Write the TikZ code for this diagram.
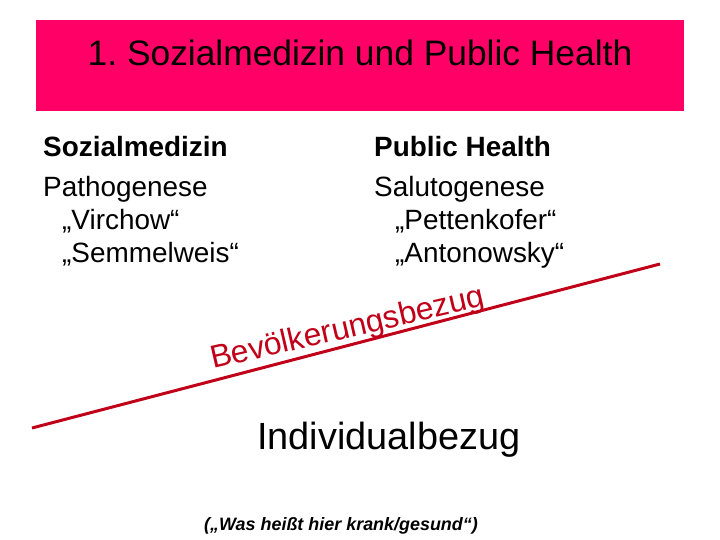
\documentclass[tikz,border=0pt]{standalone}
\usepackage{fontspec}
\setmainfont{Liberation Sans}
\frenchspacing
\definecolor{titlepink}{HTML}{FF0066}
\definecolor{linered}{HTML}{C00018}
\begin{document}
\begin{tikzpicture}[x=1bp,y=-1bp,
  coltext/.style={anchor=base west,inner sep=0pt,font=\fontsize{28}{32}\selectfont},
  colhead/.style={coltext,font=\fontsize{28}{32}\selectfont\bfseries}]
\useasboundingbox (0,0) rectangle (720,540);
\fill[titlepink] (36,20) rectangle (684,111);
\node[anchor=base,inner sep=0pt,font=\fontsize{35.5}{40}\selectfont] (title) at (360,66) {1. Sozialmedizin und Public Health};
% left column
\node[colhead] (lh) at (43,157) {Sozialmedizin};
\node[coltext] (l1) at (43,197) {Pathogenese};
\node[coltext] (l2) at (62,230) {„Virchow“};
\node[coltext] (l3) at (62,263) {„Semmelweis“};
% right column
\node[colhead] (rh) at (374,157) {Public Health};
\node[coltext] (r1) at (374,197) {Salutogenese};
\node[coltext] (r2) at (395,230) {„Pettenkofer“};
\node[coltext] (r3) at (395,263) {„Antonowsky“};
% dividing line
\coordinate (la) at (32,428);
\coordinate (lb) at (660,264);
\draw[linered,line width=3bp] (la) -- (lb);
\node[anchor=base west,inner sep=0pt,rotate=13,text=linered,font=\fontsize{32}{36}\selectfont] (bev) at (213,369) {Bevölkerungsbezug};
\node[anchor=base west,inner sep=0pt,font=\fontsize{38}{44}\selectfont] (ind) at (257,449) {Individualbezug};
\node[anchor=base,inner sep=0pt,font=\fontsize{18}{22}\selectfont\bfseries\itshape] (was) at (341,530) {(„Was heißt hier krank/gesund“)};
\end{tikzpicture}
\end{document}
